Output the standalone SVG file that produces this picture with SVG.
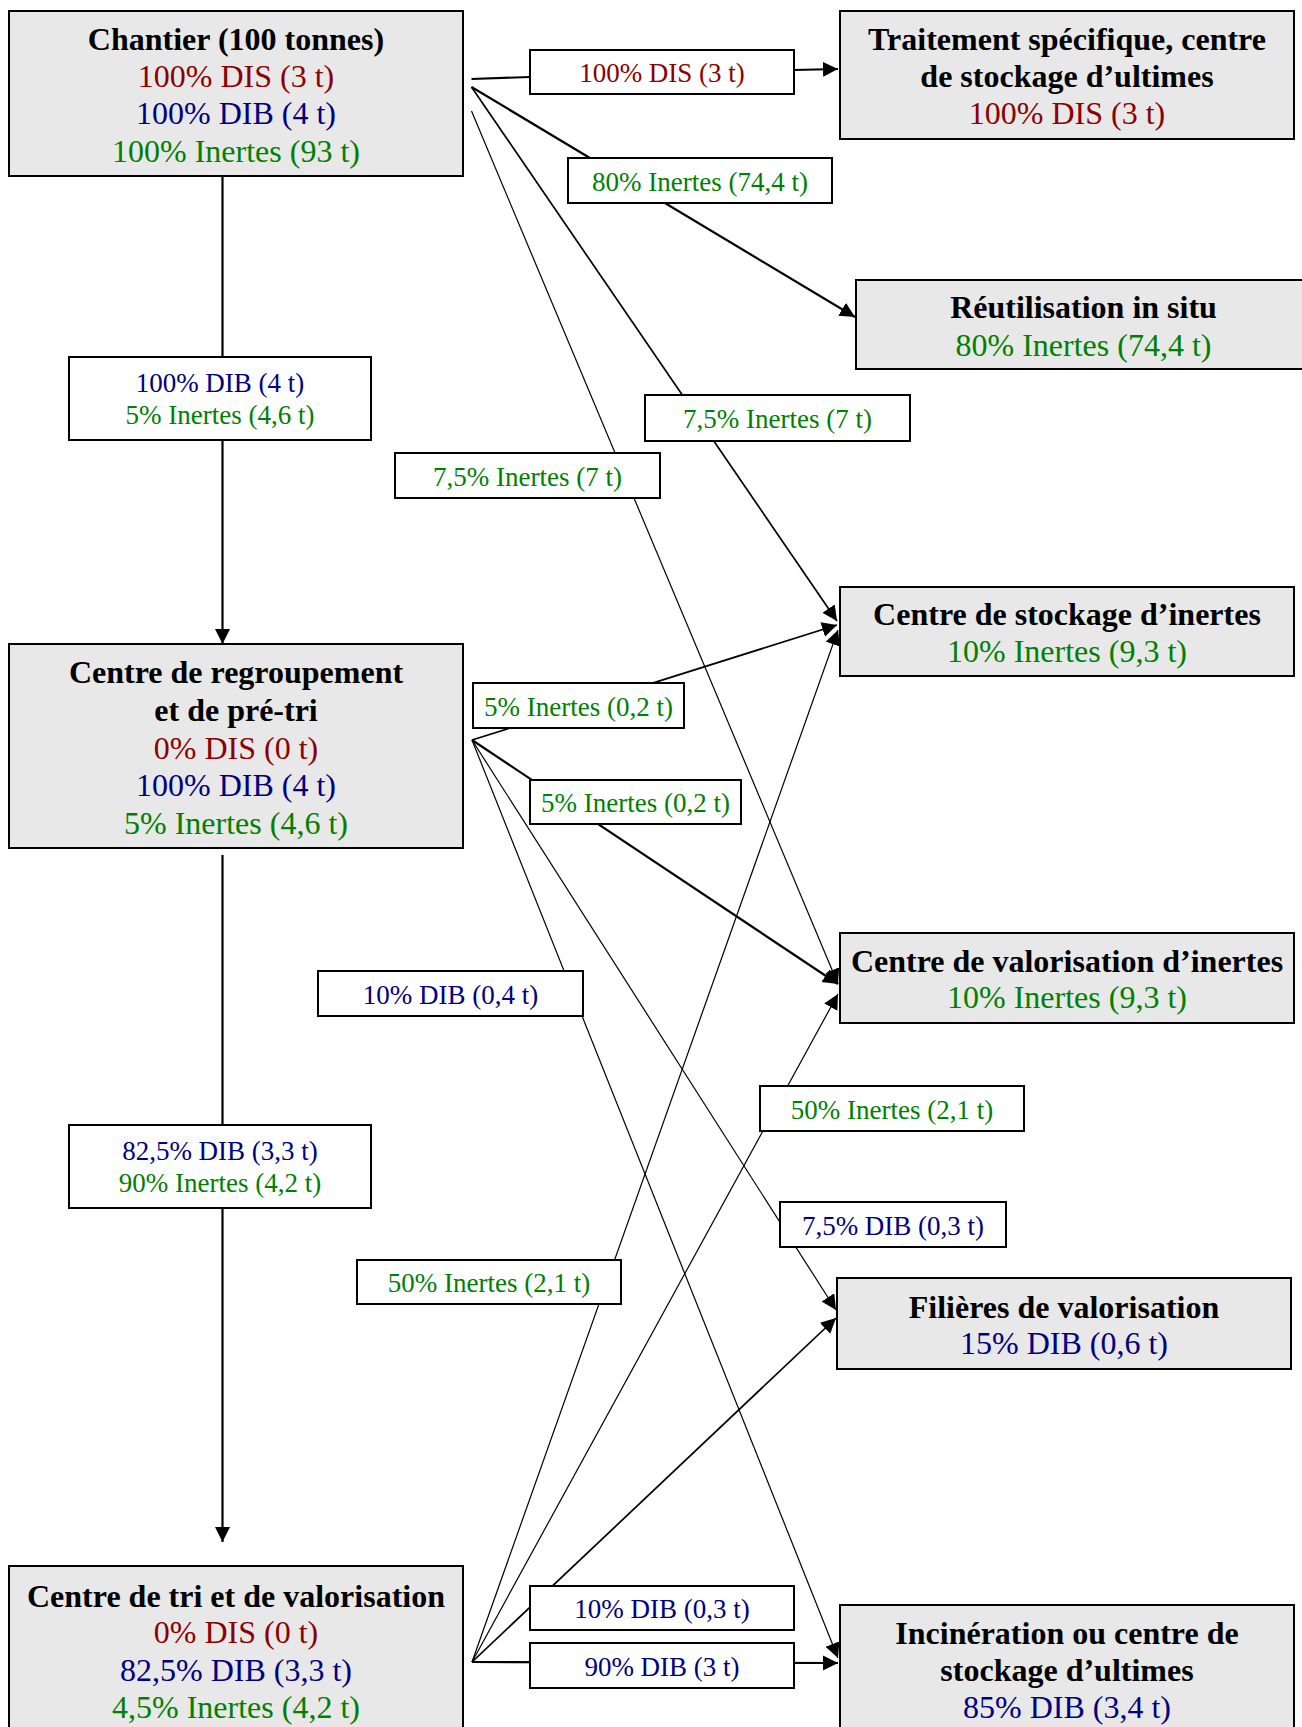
<svg xmlns="http://www.w3.org/2000/svg" width="1302" height="1727" viewBox="0 0 1302 1727">
<style>
text{font-family:"Liberation Serif","Times New Roman",serif;text-anchor:middle}
.node rect{fill:#e8e8e8;stroke:#000;stroke-width:2}
.t{font-size:32px;font-weight:bold;fill:#000}
.n{font-size:32px}
.lbl rect{fill:#fff;stroke:#000;stroke-width:2}
.lbl text{font-size:27px}
.r{fill:#8b0000}
.b{fill:#000080}
.g{fill:#008000}
.c line,.c path{stroke:#000;fill:none;marker-end:url(#ah)}
.w1{stroke-width:1.2}
.w2{stroke-width:1.7}
.w3{stroke-width:2.2}
</style>
<defs>
<marker id="ah" markerUnits="userSpaceOnUse" markerWidth="16" markerHeight="16" refX="15" refY="7.5" orient="auto">
<path d="M0,0 L15,7.5 L0,15 z" fill="#000"/>
</marker>
</defs>
<rect width="1302" height="1727" fill="#fff"/>

<g id="connectors" class="c">
<path class="w3" d="M471.5,79 L530,77 L794,70 L838,69"/>
<line class="w3" x1="471.5" y1="87" x2="855" y2="317"/>
<line class="w2" x1="471.5" y1="87" x2="837" y2="621"/>
<line class="w1" x1="471.5" y1="111" x2="838" y2="984"/>
<line class="w3" x1="222.5" y1="176" x2="222.5" y2="644"/>
<line class="w3" x1="222.5" y1="855" x2="222.5" y2="1542"/>
<line class="w2" x1="472" y1="740" x2="837" y2="625"/>
<line class="w3" x1="472" y1="740" x2="838" y2="984"/>
<line class="w1" x1="472" y1="740" x2="838" y2="1658"/>
<line class="w1" x1="472" y1="740" x2="836" y2="1310"/>
<line class="w1" x1="472" y1="1662" x2="838" y2="630"/>
<line class="w1" x1="472" y1="1662" x2="838" y2="994"/>
<line class="w2" x1="472" y1="1662" x2="836" y2="1318"/>
<line class="w3" x1="472" y1="1662" x2="838" y2="1663"/>
</g>

<g id="node-chantier" class="node">
<rect x="9" y="11" width="454" height="165"/>
<text class="t" x="236" y="50">Chantier (100 tonnes)</text>
<text class="n r" x="236" y="87">100% DIS (3 t)</text>
<text class="n b" x="236" y="124">100% DIB (4 t)</text>
<text class="n g" x="236" y="162">100% Inertes (93 t)</text>
</g>

<g id="node-traitement" class="node">
<rect x="840" y="11" width="454" height="128"/>
<text class="t" x="1067" y="50">Traitement spécifique, centre</text>
<text class="t" x="1067" y="87">de stockage d’ultimes</text>
<text class="n r" x="1067" y="124">100% DIS (3 t)</text>
</g>

<g id="node-reutilisation" class="node">
<rect x="856" y="280" width="455" height="89"/>
<text class="t" x="1083.5" y="318">Réutilisation in situ</text>
<text class="n g" x="1083.5" y="356">80% Inertes (74,4 t)</text>
</g>

<g id="node-stockage-inertes" class="node">
<rect x="840" y="587" width="454" height="89"/>
<text class="t" x="1067" y="625">Centre de stockage d’inertes</text>
<text class="n g" x="1067" y="662">10% Inertes (9,3 t)</text>
</g>

<g id="node-regroupement" class="node">
<rect x="9" y="644" width="454" height="204"/>
<text class="t" x="236" y="683">Centre de regroupement</text>
<text class="t" x="236" y="721">et de pré-tri</text>
<text class="n r" x="236" y="759">0% DIS (0 t)</text>
<text class="n b" x="236" y="796">100% DIB (4 t)</text>
<text class="n g" x="236" y="834">5% Inertes (4,6 t)</text>
</g>

<g id="node-valorisation-inertes" class="node">
<rect x="840" y="933" width="454" height="90"/>
<text class="t" x="1067" y="972">Centre de valorisation d’inertes</text>
<text class="n g" x="1067" y="1008">10% Inertes (9,3 t)</text>
</g>

<g id="node-filieres" class="node">
<rect x="837" y="1278" width="454" height="91"/>
<text class="t" x="1064" y="1318">Filières de valorisation</text>
<text class="n b" x="1064" y="1354">15% DIB (0,6 t)</text>
</g>

<g id="node-tri" class="node">
<rect x="9" y="1566" width="454" height="180"/>
<text class="t" x="236" y="1607">Centre de tri et de valorisation</text>
<text class="n r" x="236" y="1643">0% DIS (0 t)</text>
<text class="n b" x="236" y="1681">82,5% DIB (3,3 t)</text>
<text class="n g" x="236" y="1718">4,5% Inertes (4,2 t)</text>
</g>

<g id="node-incineration" class="node">
<rect x="840" y="1605" width="454" height="140"/>
<text class="t" x="1067" y="1644">Incinération ou centre de</text>
<text class="t" x="1067" y="1681">stockage d’ultimes</text>
<text class="n b" x="1067" y="1718">85% DIB (3,4 t)</text>
</g>

<g id="labels">
<g id="lbl-a" class="lbl"><rect x="530" y="50" width="264" height="44"/><text class="r" x="662" y="82">100% DIS (3 t)</text></g>
<g id="lbl-b" class="lbl"><rect x="568" y="158" width="264" height="45"/><text class="g" x="700" y="191">80% Inertes (74,4 t)</text></g>
<g id="lbl-c" class="lbl"><rect x="69" y="357" width="302" height="83"/><text class="b" x="220" y="392">100% DIB (4 t)</text><text class="g" x="220" y="424">5% Inertes (4,6 t)</text></g>
<g id="lbl-d" class="lbl"><rect x="645" y="395" width="265" height="46"/><text class="g" x="777.5" y="428">7,5% Inertes (7 t)</text></g>
<g id="lbl-e" class="lbl"><rect x="395" y="453" width="265" height="45"/><text class="g" x="527.5" y="485.5">7,5% Inertes (7 t)</text></g>
<g id="lbl-f" class="lbl"><rect x="473" y="683" width="211" height="45"/><text class="g" x="578.5" y="715.5">5% Inertes (0,2 t)</text></g>
<g id="lbl-g" class="lbl"><rect x="530" y="780" width="211" height="44"/><text class="g" x="635.5" y="812">5% Inertes (0,2 t)</text></g>
<g id="lbl-h" class="lbl"><rect x="318" y="971" width="265" height="45"/><text class="b" x="450.5" y="1003.5">10% DIB (0,4 t)</text></g>
<g id="lbl-i" class="lbl"><rect x="69" y="1125" width="302" height="83"/><text class="b" x="220" y="1160">82,5% DIB (3,3 t)</text><text class="g" x="220" y="1192">90% Inertes (4,2 t)</text></g>
<g id="lbl-j" class="lbl"><rect x="760" y="1086" width="264" height="45"/><text class="g" x="892" y="1118.5">50% Inertes (2,1 t)</text></g>
<g id="lbl-k" class="lbl"><rect x="780" y="1202" width="226" height="45"/><text class="b" x="893" y="1234.5">7,5% DIB (0,3 t)</text></g>
<g id="lbl-l" class="lbl"><rect x="357" y="1260" width="264" height="44"/><text class="g" x="489" y="1292">50% Inertes (2,1 t)</text></g>
<g id="lbl-m" class="lbl"><rect x="530" y="1586" width="264" height="44"/><text class="b" x="662" y="1618">10% DIB (0,3 t)</text></g>
<g id="lbl-n" class="lbl"><rect x="530" y="1643" width="264" height="45"/><text class="b" x="662" y="1675.5">90% DIB (3 t)</text></g>
</g>
</svg>
